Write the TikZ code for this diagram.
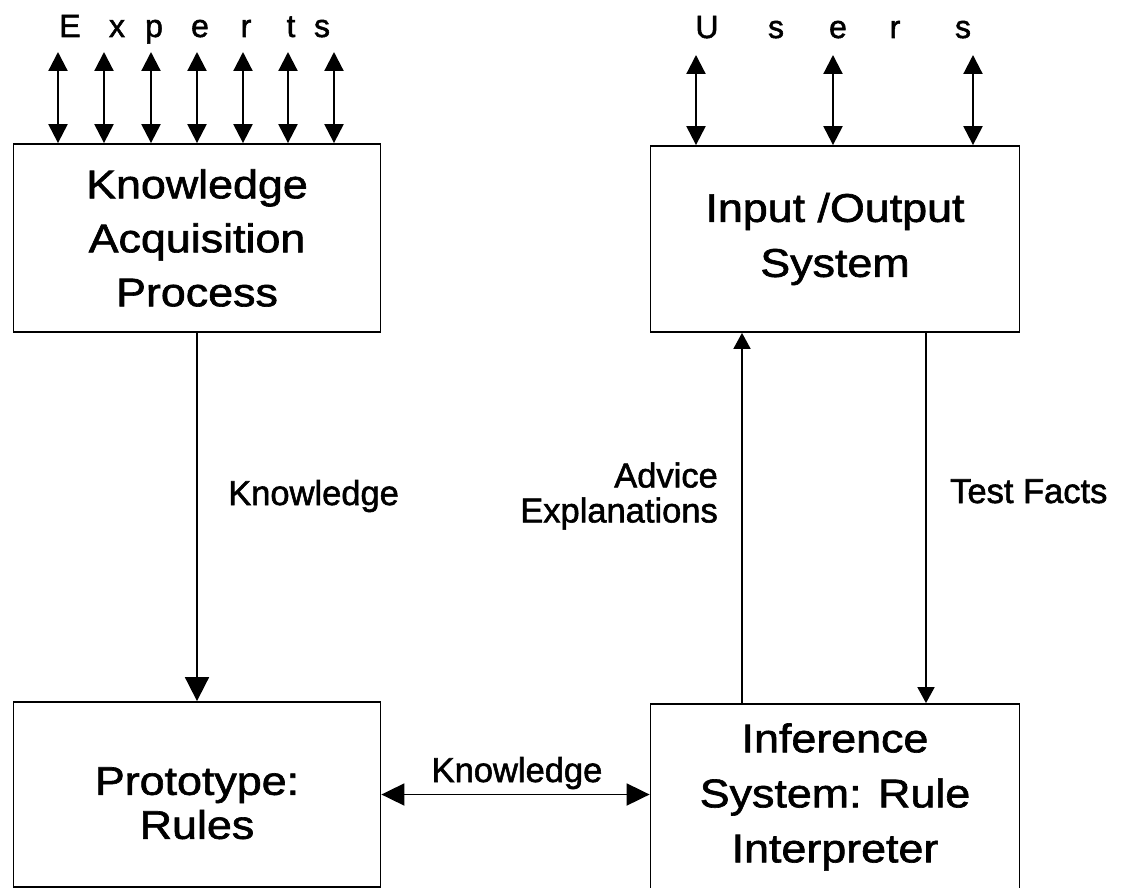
\documentclass[tikz,border=0pt]{standalone}
\usepackage{fontspec}
\setmainfont{Liberation Sans}[FakeBold=1.6]
\newfontfamily\widefont{Liberation Sans}[FakeStretch=1.12,FakeBold=1.6]
\usetikzlibrary{arrows.meta,calc}

\begin{document}
\begin{tikzpicture}[x=1pt,y=-1pt,
  box/.style={draw, line width=1.8pt, minimum width=367pt, inner sep=0pt, align=center},
  boxtext/.style={font=\widefont\fontsize{40}{#1}\selectfont},
  lbl/.style={inner sep=0pt, font=\fontsize{34.5}{35}\selectfont},
  letter/.style={inner sep=0pt, anchor=base, font=\fontsize{32}{36}\selectfont},
  twoway/.style={line width=2.2pt, {Triangle[length=19pt,width=19pt]}-{Triangle[length=19pt,width=19pt]}},
  bigarrow/.style={line width=1.8pt, -{Triangle[length=24pt,width=24pt]}},
  midarrow/.style={line width=1.8pt, -{Triangle[length=16pt,width=17pt]}},
  harrow/.style={line width=1.9pt, {Triangle[length=23pt,width=22pt]}-{Triangle[length=23pt,width=22pt]}}
]
\useasboundingbox (0,0) rectangle (1122,888);

% the four blocks
\node[box, minimum height=188pt, boxtext=54pt] (kap) at (197,238) {Knowledge\\Acquisition\\Process};
\node[box, minimum height=186pt, minimum width=369pt, boxtext=55pt] (io) at (835,239) {Input /Output\\System};
\node[box, minimum height=185pt, boxtext=44pt] (proto) at (197,794.5) {\rule{0pt}{45pt}Prototype:\\Rules};
\node[box, minimum height=186pt, minimum width=369pt, boxtext=55pt] (inf) at (835,797) {Inference\\System: Rule\\Interpreter};

% experts above the acquisition block
\foreach \l/\x [count=\i] in {E/70,x/117,p/154,e/200,r/246,t/291,s/322}
  \node[letter] (el\i) at (\x,37) {\l};
\foreach \x [count=\i] in {58,104,151,197,243,288,334} {
  \coordinate (ex\i) at (\x,52);
  \draw[twoway] (ex\i) -- (ex\i |- kap.north);
}

% users above the input/output block
\foreach \l/\x [count=\i] in {U/707,s/776,e/838,r/895,s/963}
  \node[letter] (ul\i) at (\x,38) {\l};
\foreach \x [count=\i] in {696,833,973} {
  \coordinate (us\i) at (\x,55);
  \draw[twoway] (us\i) -- (us\i |- io.north);
}

% flows between blocks
\draw[bigarrow] (kap.south) -- (proto.north);
\draw[midarrow] ($(inf.north)+(-93,0)$) -- ($(io.south)+(-93,0)$);
\draw[midarrow] ($(io.south)+(91,0)$) -- ($(inf.north)+(91,0)$);
\draw[harrow] (proto.east) -- (proto.east -| inf.west);

% flow labels
\node[lbl, anchor=base west] (klab) at (228,505) {Knowledge};
\node[lbl, anchor=east, align=right] (adv) at (718,496) {Advice\\Explanations};
\node[lbl, anchor=base west] (tf) at (950,503) {Test Facts};
\node[lbl, anchor=base] (klab2) at (517,782) {Knowledge};
\end{tikzpicture}
\end{document}
